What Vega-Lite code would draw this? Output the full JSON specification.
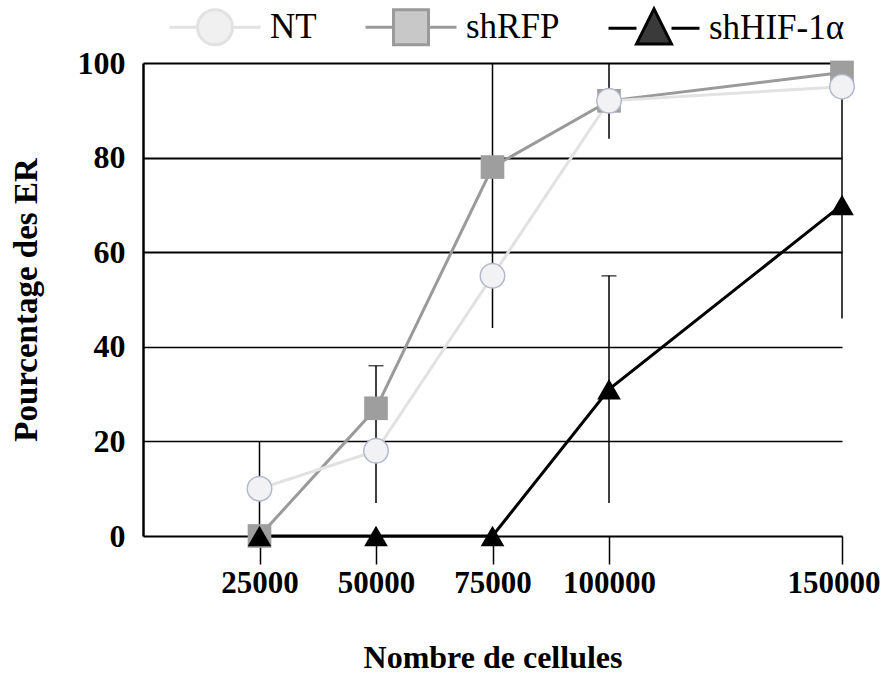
{
  "$schema": "https://vega.github.io/schema/vega-lite/v6.json",
  "autosize": {"type": "none"},
  "padding": {"left": 143, "top": 63, "right": 45, "bottom": 143},
  "width": 699,
  "height": 473,
  "background": "white",
  "config": {
    "font": "Liberation Serif",
    "view": {"stroke": null},
    "axis": {"labelFont": "Liberation Serif", "titleFont": "Liberation Serif", "labelColor": "black", "titleColor": "black"}
  },
  "datasets": {
    "pts": [
      {"series": "shRFP", "x": 25000, "y": 0},
      {"series": "shRFP", "x": 50000, "y": 27},
      {"series": "shRFP", "x": 75000, "y": 78},
      {"series": "shRFP", "x": 100000, "y": 92},
      {"series": "shRFP", "x": 150000, "y": 98},
      {"series": "NT", "x": 25000, "y": 10},
      {"series": "NT", "x": 50000, "y": 18},
      {"series": "NT", "x": 75000, "y": 55},
      {"series": "NT", "x": 100000, "y": 92},
      {"series": "NT", "x": 150000, "y": 95},
      {"series": "shHIF-1α", "x": 25000, "y": 0},
      {"series": "shHIF-1α", "x": 50000, "y": 0},
      {"series": "shHIF-1α", "x": 75000, "y": 0},
      {"series": "shHIF-1α", "x": 100000, "y": 31},
      {"series": "shHIF-1α", "x": 150000, "y": 70}
    ],
    "err": [
      {"x": 25000, "lo": 0, "hi": 20},
      {"x": 50000, "lo": 7, "hi": 36},
      {"x": 75000, "lo": 44, "hi": 100},
      {"x": 100000, "lo": 84, "hi": 100},
      {"x": 100000, "lo": 7, "hi": 55},
      {"x": 150000, "lo": 46, "hi": 95}
    ],
    "caps": [
      {"x": 50000, "y": 36},
      {"x": 100000, "y": 55}
    ]
  },
  "layer": [
    {
      "data": {"name": "err"},
      "mark": {"type": "rule", "color": "black", "strokeWidth": 1.5},
      "encoding": {
        "x": {"field": "x", "type": "quantitative", "scale": {"domain": [0, 150000], "nice": false, "zero": false},
          "axis": {"values": [25000, 50000, 75000, 100000, 150000], "format": "d", "domain": false, "grid": false,
            "tickColor": "black", "tickWidth": 1.5, "tickSize": 28, "labelPadding": 4, "labelFontSize": 31, "labelFontWeight": "bold",
            "labelFlush": true, "labelFlushOffset": 38,
            "title": "Nombre de cellules", "titleFontSize": 32, "titleFontWeight": "bold", "titlePadding": 44}},
        "y": {"field": "lo", "type": "quantitative", "scale": {"domain": [0, 100], "nice": false},
          "axis": {"values": [0, 20, 40, 60, 80, 100], "ticks": false, "grid": true, "gridColor": "black",
            "gridWidth": {"condition": {"test": "datum.value === 20 || datum.value === 40", "value": 1.6}, "value": 2.2}, "gridOpacity": 1,
            "domainColor": "black", "domainWidth": 2.5, "labelPadding": 18, "labelFontSize": 32, "labelFontWeight": "bold",
            "title": "Pourcentage des ER", "titleFontSize": 33, "titleFontWeight": "bold", "titlePadding": 34}},
        "y2": {"field": "hi"}
      }
    },
    {
      "data": {"name": "caps"},
      "mark": {"type": "tick", "orient": "horizontal", "color": "black", "size": 15, "thickness": 1.5},
      "encoding": {
        "x": {"field": "x", "type": "quantitative"},
        "y": {"field": "y", "type": "quantitative"}
      }
    },
    {
      "data": {"name": "pts"},
      "mark": {"type": "line", "strokeWidth": 3, "clip": false},
      "encoding": {
        "x": {"field": "x", "type": "quantitative"},
        "y": {"field": "y", "type": "quantitative"},
        "stroke": {"field": "series", "type": "nominal",
          "scale": {"domain": ["NT", "shRFP", "shHIF-1α"], "range": ["#e2e2e2", "#9a9a9a", "#000000"]},
          "legend": {"title": null, "orient": "none", "direction": "horizontal", "legendX": 53, "legendY": -55,
            "symbolSize": 1225, "labelFontSize": 35, "labelFont": "Liberation Serif", "labelColor": "black", "labelOffset": 36, "columnPadding": 42,
            "encode": {"symbols": {"update": {
              "shape": {"signal": "datum.value === 'NT' ? 'M-2.6,0L-1,0M1,0L2.6,0M-1,0A1,1,0,1,1,1,0A1,1,0,1,1,-1,0Z' : datum.value === 'shRFP' ? 'M-2.6,0L-1,0M1,0L2.6,0M-1,-1L1,-1L1,1L-1,1Z' : 'M-2.6,0L-1,0M1,0L2.6,0M0,-1.1L1,0.9L-1,0.9Z'"},
              "fill": {"signal": "datum.value === 'NT' ? '#f0f0f0' : datum.value === 'shRFP' ? '#c8c8c8' : '#3a3a3a'"},
              "stroke": {"signal": "datum.value === 'NT' ? '#e2e2e2' : datum.value === 'shRFP' ? '#8a8a8a' : '#333333'"},
              "strokeWidth": {"value": 3},
              "opacity": {"value": 1},
              "fillOpacity": {"value": 1}
            }}}}}
      }
    },
    {
      "data": {"name": "pts"},
      "transform": [{"filter": "datum.series === 'shRFP'"}],
      "mark": {"type": "point", "shape": "square", "filled": true, "opacity": 1, "clip": false, "fill": "#9e9e9e", "size": 560},
      "encoding": {
        "x": {"field": "x", "type": "quantitative"},
        "y": {"field": "y", "type": "quantitative"}
      }
    },
    {
      "data": {"name": "pts"},
      "transform": [{"filter": "datum.series === 'NT'"}],
      "mark": {"type": "point", "shape": "circle", "filled": true, "opacity": 1, "clip": false, "fill": "#f2f2f5", "stroke": "#b4b8cc", "strokeWidth": 1.5, "size": 600},
      "encoding": {
        "x": {"field": "x", "type": "quantitative"},
        "y": {"field": "y", "type": "quantitative"}
      }
    },
    {
      "data": {"name": "pts"},
      "transform": [{"filter": "datum.series === 'shHIF-1α'"}],
      "mark": {"type": "point", "shape": "triangle-up", "filled": true, "opacity": 1, "clip": false, "fill": "#000000", "size": 560},
      "encoding": {
        "x": {"field": "x", "type": "quantitative"},
        "y": {"field": "y", "type": "quantitative"}
      }
    }
  ]
}
